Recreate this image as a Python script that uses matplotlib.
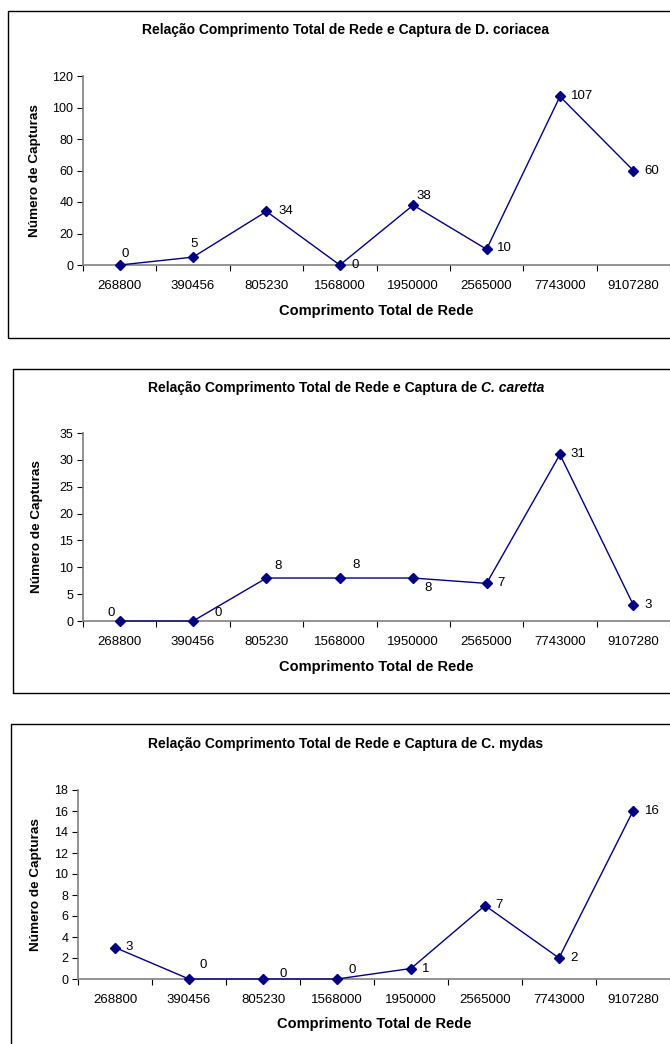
import matplotlib
matplotlib.use('Agg')
import matplotlib.pyplot as plt
from matplotlib.patches import Rectangle

plt.rcParams.update({
    'font.family': ['Liberation Sans', 'DejaVu Sans'],
    'font.size': 10,
})

# ----- Data -----
net_lengths = ['268800', '390456', '805230', '1568000',
               '1950000', '2565000', '7743000', '9107280']

captures_coriacea = [0, 5, 34, 0, 38, 10, 107, 60]
captures_caretta = [0, 0, 8, 8, 8, 7, 31, 3]
captures_mydas = [3, 0, 0, 0, 1, 7, 2, 16]

yticks_coriacea = [0, 20, 40, 60, 80, 100, 120]
yticks_caretta = [0, 5, 10, 15, 20, 25, 30, 35]
yticks_mydas = [0, 2, 4, 6, 8, 10, 12, 14, 16, 18]

# ----- Layout (pixels, y downwards) -----
W, H = 670, 1044
NAVY = '#000080'
AXIS_GRAY = '#808080'
TITLE_X = 346

# data-label centre offsets in px from the marker (Excel auto placement)
OFF_CORIACEA = [(5, -11), (1, -13), (19, 0), (15, 0), (11, -9), (18, -1), (22, 0), (18, 0)]
OFF_CARETTA = [(-9, -8), (25, -8), (12, -12), (16, -13), (15, 10), (14, 0), (18, 0), (15, 0)]
OFF_MYDAS = [(14, 0), (14, -14), (20, -5), (15, -9), (15, 0), (14, -1), (15, 0), (19, 0)]

PANELS = [
    dict(title=('Relação Comprimento Total de Rede e Captura de ', 'D. coriacea', False),
         values=captures_coriacea, yticks=yticks_coriacea, offs=OFF_CORIACEA,
         ax_px=(83, 670, 76, 265), frame_px=(8, 700, 11, 338),
         title_y=30, xlabel_y=311, ylabel_x=35),
    dict(title=('Relação Comprimento Total de Rede e Captura de ', 'C. caretta', True),
         values=captures_caretta, yticks=yticks_caretta, offs=OFF_CARETTA,
         ax_px=(83, 670, 433, 621), frame_px=(13, 700, 369, 693),
         title_y=388, xlabel_y=667, ylabel_x=37),
    dict(title=('Relação Comprimento Total de Rede e Captura de ', 'C. mydas', False),
         values=captures_mydas, yticks=yticks_mydas, offs=OFF_MYDAS,
         ax_px=(78, 670, 790, 979), frame_px=(11, 700, 724, 1060),
         title_y=744, xlabel_y=1024, ylabel_x=36),
]


def fx(px):
    return px / W


def fy(py):
    return 1 - py / H


fig = plt.figure(figsize=(W / 100, H / 100), dpi=100)
renderer = fig.canvas.get_renderer()

for p in PANELS:
    # outer chart frame
    l, r, t, b = p['frame_px']
    fig.patches.append(Rectangle((fx(l), fy(b)), fx(r - l), (b - t) / H,
                                 transform=fig.transFigure, fill=False,
                                 edgecolor='black', linewidth=1.0))

    l, r, t, b = p['ax_px']
    ax = fig.add_axes([fx(l), fy(b), fx(r - l), (b - t) / H])
    n = len(net_lengths)
    xs = list(range(n))
    ax.plot(xs, p['values'], color=NAVY, linewidth=1.0, marker='D',
            markersize=5, markerfacecolor=NAVY, markeredgecolor=NAVY,
            clip_on=False, zorder=3)
    for x, v, (dx, dy) in zip(xs, p['values'], p['offs']):
        ax.annotate(str(v), xy=(x, v), xytext=(dx * 0.72, -dy * 0.72),
                    textcoords='offset points', ha='center', va='center',
                    fontsize=9.5)

    ax.set_xlim(-0.5, n - 0.5)
    ax.set_ylim(0, p['yticks'][-1])
    ax.set_yticks(p['yticks'])
    ax.set_xticks([i - 0.5 for i in range(n + 1)])
    ax.set_xticklabels([])
    ax.set_xticks(xs, minor=True)
    ax.set_xticklabels(net_lengths, minor=True)
    ax.tick_params(axis='x', which='minor', length=0, pad=11, labelsize=9.5)
    ax.tick_params(axis='x', which='major', length=4, direction='out',
                   color='black', width=0.8)
    ax.tick_params(axis='y', length=4, direction='out', width=0.8,
                   labelsize=9, pad=3)
    for side in ('top', 'right'):
        ax.spines[side].set_visible(False)
    for side in ('left', 'bottom'):
        ax.spines[side].set_color(AXIS_GRAY)
        ax.spines[side].set_linewidth(1.2)
    ax.patch.set_alpha(0)

    # title, species name italic where the original has it
    t1, t2, italic = p['title']
    ty = fy(p['title_y'])
    if italic:
        r1 = fig.text(0, ty, t1, fontsize=10, fontweight='bold', va='center')
        r2 = fig.text(0, ty, t2, fontsize=10, fontweight='bold',
                      style='italic', va='center')
        w1 = r1.get_window_extent(renderer).width
        w2 = r2.get_window_extent(renderer).width
        x0 = TITLE_X - (w1 + w2) / 2
        r1.set_x(fx(x0))
        r2.set_x(fx(x0 + w1))
    else:
        fig.text(fx(TITLE_X), ty, t1 + t2, ha='center', va='center',
                 fontsize=10, fontweight='bold')

    fig.text(fx((l + r) / 2), fy(p['xlabel_y']), 'Comprimento Total de Rede',
             ha='center', va='center', fontsize=10.5, fontweight='bold')
    fig.text(fx(p['ylabel_x']), fy((t + b) / 2), 'Número de Capturas',
             ha='center', va='center', rotation=90, fontsize=9.7,
             fontweight='bold')

fig.savefig('out.png', dpi=100)
